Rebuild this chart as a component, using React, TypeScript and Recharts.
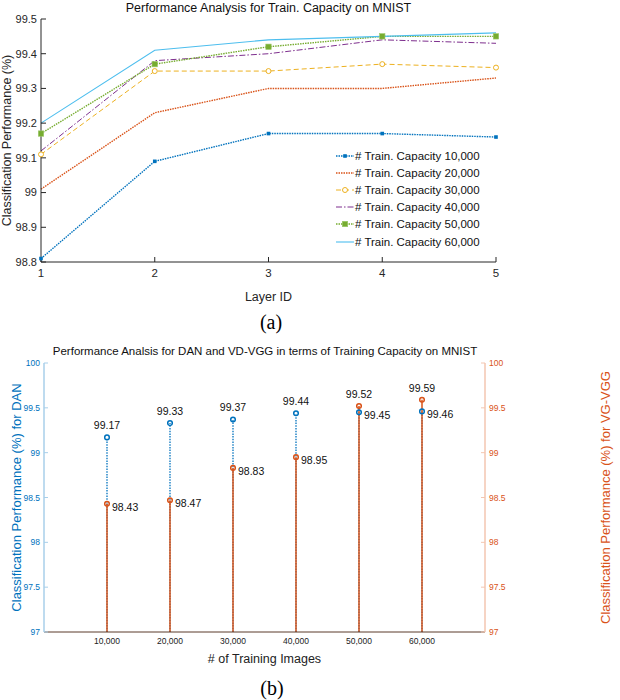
import React from 'react';
import {
  LineChart, Line, XAxis, YAxis, Legend, Label,
  ComposedChart, Scatter, ErrorBar,
} from 'recharts';

// (a) layer sweep
const layers = [1, 2, 3, 4, 5];
const cap10k = [98.81, 99.09, 99.17, 99.17, 99.16];
const cap20k = [99.01, 99.23, 99.3, 99.3, 99.33];
const cap30k = [99.11, 99.35, 99.35, 99.37, 99.36];
const cap40k = [99.12, 99.38, 99.4, 99.44, 99.43];
const cap50k = [99.17, 99.37, 99.42, 99.45, 99.45];
const cap60k = [99.2, 99.41, 99.44, 99.45, 99.46];
const perfTicks = [98.8, 98.9, 99, 99.1, 99.2, 99.3, 99.4, 99.5];

// (b) DAN vs VD-VGG
const trainImages = [10000, 20000, 30000, 40000, 50000, 60000];
const danPerf = [99.17, 99.33, 99.37, 99.44, 99.45, 99.46];
const vggPerf = [98.43, 98.47, 98.83, 98.95, 99.52, 99.59];
const stemBase = 97;
const stemTicks = [97, 97.5, 98, 98.5, 99, 99.5, 100];

const FONT = '"Liberation Sans", Arial, Helvetica, sans-serif';
const INK = '#262626';
const BLUE = '#0072BD';
const ORANGE = '#D95319';

type Marker = 'none' | 'square' | 'bigSquare' | 'circle';

interface SeriesDef {
  key: string;
  name: string;
  color: string;
  dash?: string;
  width: number;
  marker: Marker;
}

const series: SeriesDef[] = [
  { key: 'c10', name: '# Train. Capacity 10,000', color: BLUE, dash: '1.5 1', width: 1.4, marker: 'square' },
  { key: 'c20', name: '# Train. Capacity 20,000', color: ORANGE, dash: '1.5 1', width: 1.4, marker: 'none' },
  { key: 'c30', name: '# Train. Capacity 30,000', color: '#EDB120', dash: '5 3', width: 1, marker: 'circle' },
  { key: 'c40', name: '# Train. Capacity 40,000', color: '#7E2F8E', dash: '6 2 1.5 2', width: 1, marker: 'none' },
  { key: 'c50', name: '# Train. Capacity 50,000', color: '#77AC30', dash: '1.5 1', width: 1.4, marker: 'bigSquare' },
  { key: 'c60', name: '# Train. Capacity 60,000', color: '#4DBEEE', width: 1.1, marker: 'none' },
];

const layerRows = layers.map((layer, i) => ({
  layer,
  c10: cap10k[i],
  c20: cap20k[i],
  c30: cap30k[i],
  c40: cap40k[i],
  c50: cap50k[i],
  c60: cap60k[i],
}));

const stemRows = trainImages.map((images, i) => ({
  images,
  dan: danPerf[i],
  vgg: vggPerf[i],
  danStem: [danPerf[i] - stemBase, 0],
  vggStem: [vggPerf[i] - stemBase, 0],
}));

function markerGlyph(kind: Marker, color: string, cx: number, cy: number, key?: string) {
  if (kind === 'square') {
    return <rect key={key} x={cx - 1.8} y={cy - 1.8} width={3.6} height={3.6} fill={color} />;
  }
  if (kind === 'bigSquare') {
    return <rect key={key} x={cx - 2.7} y={cy - 2.7} width={5.4} height={5.4} fill={color} stroke="#9cc96b" strokeWidth={0.6} />;
  }
  if (kind === 'circle') {
    return <circle key={key} cx={cx} cy={cy} r={2.5} fill="#fff" stroke={color} strokeWidth={1} />;
  }
  return <g key={key} />;
}

const dotFor = (s: SeriesDef) => {
  if (s.marker === 'none') return false;
  // eslint-disable-next-line @typescript-eslint/no-explicit-any
  return (p: any) => markerGlyph(s.marker, s.color, p.cx, p.cy, `${s.key}-${p.index}`);
};

function LayerLegend() {
  return (
    <div style={{ fontFamily: FONT, fontSize: 11.5, color: '#111', background: '#fff' }}>
      {series.map((s) => (
        <div key={s.key} style={{ display: 'flex', alignItems: 'center', height: 17.2 }}>
          <svg width={19} height={10}>
            <line x1={0} y1={5} x2={18} y2={5} stroke={s.color} strokeWidth={s.width} strokeDasharray={s.dash} />
            {markerGlyph(s.marker, s.color, 9, 5)}
          </svg>
          <span style={{ whiteSpace: 'nowrap' }}>{s.name}</span>
        </div>
      ))}
    </div>
  );
}

const noShape = () => <g />;

// eslint-disable-next-line @typescript-eslint/no-explicit-any
const stemHead = (which: 'dan' | 'vgg') => (p: any) => {
  const color = which === 'dan' ? BLUE : ORANGE;
  const mine = p.payload[which];
  const other = p.payload[which === 'dan' ? 'vgg' : 'dan'];
  const above = mine >= other;
  return (
    <g>
      <circle cx={p.cx} cy={p.cy} r={2.3} fill="none" stroke={color} strokeWidth={1.5} />
      <text
        x={above ? p.cx : p.cx + 5}
        y={above ? p.cy - 12 : p.cy + 3}
        textAnchor={above ? 'middle' : 'start'}
        dominantBaseline="central"
        fontSize={10.5}
        fill="#111"
      >
        {mine.toFixed(2)}
      </text>
    </g>
  );
};

const blank = () => '';

function LayerChart() {
  return (
    <div style={{ position: 'absolute', left: 0, top: 0, fontFamily: FONT }}>
      <div
        style={{
          position: 'absolute', left: 41, width: 455, top: 0, textAlign: 'center', fontSize: 12.5, lineHeight: '16px', color: '#111',
        }}
      >
        Performance Analysis for Train. Capacity on MNIST
      </div>
      <LineChart width={620} height={310} data={layerRows} margin={{ top: 19, right: 124, bottom: 0, left: 0 }}>
        <XAxis
          xAxisId="b"
          dataKey="layer"
          type="number"
          domain={[1, 5]}
          ticks={layers}
          height={48}
          tickSize={-5}
          tickMargin={12}
          axisLine={{ stroke: INK }}
          tickLine={{ stroke: INK }}
          tick={{ fill: INK, fontSize: 11.5 }}
        >
          <Label value="Layer ID" position="insideBottom" offset={9} fill={INK} fontSize={12.5} />
        </XAxis>
        <XAxis
          xAxisId="t"
          dataKey="layer"
          orientation="top"
          type="number"
          domain={[1, 5]}
          ticks={layers}
          height={0}
          mirror
          tickSize={5}
          tickFormatter={blank}
          axisLine={{ stroke: '#bdbdbd', strokeWidth: 2 }}
          tickLine={{ stroke: INK }}
        />
        <YAxis
          yAxisId="l"
          type="number"
          domain={[98.8, 99.5]}
          ticks={perfTicks}
          width={41}
          tickSize={-5}
          tickMargin={9}
          axisLine={{ stroke: INK }}
          tickLine={{ stroke: INK }}
          tick={{ fill: INK, fontSize: 11 }}
          allowDataOverflow
        >
          <Label
            value="Classification Performance (%)"
            angle={-90}
            position="insideLeft"
            offset={7}
            fill={INK}
            fontSize={12.5}
            style={{ textAnchor: 'middle' }}
          />
        </YAxis>
        <YAxis
          yAxisId="r"
          orientation="right"
          type="number"
          domain={[98.8, 99.5]}
          ticks={perfTicks}
          width={0}
          mirror
          tickSize={5}
          tickFormatter={blank}
          axisLine={{ stroke: '#bdbdbd', strokeWidth: 2 }}
          tickLine={{ stroke: INK }}
          allowDataOverflow
        />
        {series.map((s) => (
          <Line
            key={s.key}
            xAxisId="b"
            yAxisId="l"
            type="linear"
            dataKey={s.key}
            name={s.name}
            stroke={s.color}
            strokeWidth={s.width}
            strokeDasharray={s.dash}
            dot={dotFor(s)}
            activeDot={false}
            isAnimationActive={false}
          />
        ))}
        <Legend
          layout="vertical"
          align="center"
          verticalAlign="middle"
          content={<LayerLegend />}
          wrapperStyle={{ left: 336, top: 147, width: 160 }}
        />
      </LineChart>
      <div
        style={{
          position: 'absolute', left: 221, width: 100, top: 308, textAlign: 'center',
          fontFamily: '"Liberation Serif", "Times New Roman", serif', fontSize: 20, lineHeight: '28px', color: '#000',
        }}
      >
        (a)
      </div>
    </div>
  );
}

function StemChart() {
  return (
    <div style={{ position: 'absolute', left: 0, top: 340, fontFamily: FONT }}>
      <div
        style={{
          position: 'absolute', left: 0, width: 530, top: 3, textAlign: 'center', fontSize: 11.5, lineHeight: '16px', color: '#111',
        }}
      >
        Performance Analsis for DAN and VD-VGG in terms of Training Capacity on MNIST
      </div>
      <ComposedChart width={620} height={360} data={stemRows} margin={{ top: 23, right: 0, bottom: 32, left: 0 }}>
        <XAxis
          dataKey="images"
          type="number"
          domain={[0, 70000]}
          ticks={trainImages}
          height={36}
          tickSize={0}
          tickMargin={6}
          tickFormatter={(v: number) => v.toLocaleString('en-US')}
          axisLine={{ stroke: '#5b3b2b' }}
          tick={{ fill: '#222', fontSize: 8.5 }}
        >
          <Label value="# of Training Images" position="insideBottom" offset={5} fill="#222" fontSize={12.5} />
        </XAxis>
        <XAxis
          xAxisId="top"
          dataKey="images"
          orientation="top"
          type="number"
          domain={[0, 70000]}
          ticks={trainImages}
          height={0}
          mirror
          tickSize={4}
          tickFormatter={blank}
          axisLine={{ stroke: '#c4c4c4', strokeWidth: 2 }}
          tickLine={{ stroke: '#555' }}
        />
        <YAxis
          yAxisId="dan"
          type="number"
          domain={[97, 100]}
          ticks={stemTicks}
          width={44}
          tickSize={-4}
          tickMargin={8}
          axisLine={{ stroke: '#a8cfea', strokeWidth: 1.5 }}
          tickLine={{ stroke: '#a8cfea' }}
          tick={{ fill: BLUE, fontSize: 8.5 }}
          allowDataOverflow
        >
          <Label
            value="Classification Performance (%) for DAN"
            angle={-90}
            position="insideLeft"
            offset={16}
            fill={BLUE}
            fontSize={13}
            style={{ textAnchor: 'middle' }}
          />
        </YAxis>
        <YAxis
          yAxisId="vgg"
          orientation="right"
          type="number"
          domain={[97, 100]}
          ticks={stemTicks}
          width={135}
          tickSize={-4}
          tickMargin={8}
          axisLine={{ stroke: '#f3c6b0', strokeWidth: 1.5 }}
          tickLine={{ stroke: '#f3c6b0' }}
          tick={{ fill: ORANGE, fontSize: 8.5 }}
          allowDataOverflow
        >
          <Label
            value="Classification Performance (%) for VG-VGG"
            angle={-90}
            position="insideRight"
            offset={15}
            fill={ORANGE}
            fontSize={13}
            style={{ textAnchor: 'middle' }}
          />
        </YAxis>
        <Scatter yAxisId="dan" dataKey="dan" shape={noShape} isAnimationActive={false}>
          <ErrorBar
            dataKey="danStem"
            direction="y"
            width={0}
            stroke={BLUE}
            strokeWidth={1.3}
            strokeDasharray="1.5 1.2"
            isAnimationActive={false}
          />
        </Scatter>
        <Scatter yAxisId="vgg" dataKey="vgg" shape={noShape} isAnimationActive={false}>
          <ErrorBar
            dataKey="vggStem"
            direction="y"
            width={0}
            stroke={ORANGE}
            strokeWidth={1.5}
            isAnimationActive={false}
          />
        </Scatter>
        <Scatter yAxisId="dan" dataKey="dan" shape={stemHead('dan')} isAnimationActive={false} />
        <Scatter yAxisId="vgg" dataKey="vgg" shape={stemHead('vgg')} isAnimationActive={false} />
      </ComposedChart>
      <div
        style={{
          position: 'absolute', left: 222, width: 100, top: 334, textAlign: 'center',
          fontFamily: '"Liberation Serif", "Times New Roman", serif', fontSize: 20, lineHeight: '28px', color: '#000',
        }}
      >
        (b)
      </div>
    </div>
  );
}

export default function App() {
  return (
    <div style={{ position: 'absolute', left: 0, top: 0, width: 620, height: 700, background: '#fff', overflow: 'hidden' }}>
      <LayerChart />
      <StemChart />
    </div>
  );
}
